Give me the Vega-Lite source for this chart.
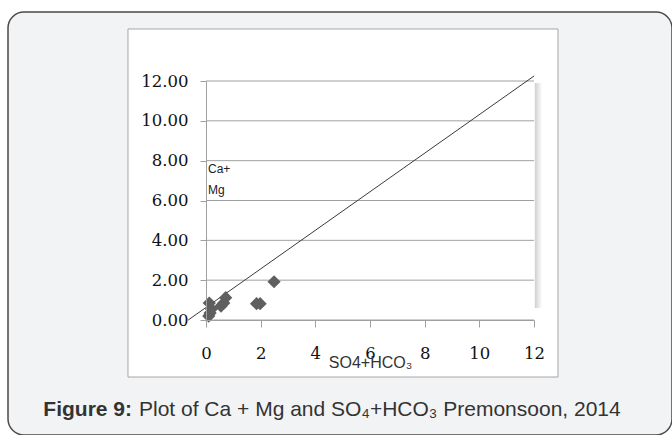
{
  "$schema": "https://vega.github.io/schema/vega-lite/v6.json",
  "width": 664,
  "height": 423,
  "autosize": {"type": "none"},
  "padding": {"left": 8, "top": 12, "right": 0, "bottom": 0},
  "background": "#ffffff",
  "config": {
    "view": {"fill": "#f2f3f5", "stroke": "#4a4a4a", "strokeWidth": 1.5, "cornerRadius": 16},
    "axisX": {
      "format": "d", "grid": false, "offset": -115, "labelFlush": false,
      "labelFont": "DejaVu Serif", "labelFontSize": 16.5, "labelColor": "#111111",
      "tickSize": 7, "tickColor": "#a0a0a0", "domainColor": "#a0a0a0", "labelPadding": 18,
      "titleFont": "Liberation Sans", "titleFontSize": 16, "titleFontWeight": "normal",
      "titleColor": "#333333", "titlePadding": -7
    },
    "axisY": {
      "format": ".2f", "grid": false, "offset": -198, "labelFlush": false,
      "labelFont": "DejaVu Serif", "labelFontSize": 16.5, "labelColor": "#111111",
      "tickSize": 6, "tickColor": "#a0a0a0", "domainColor": "#a0a0a0", "labelPadding": 12
    }
  },
  "datasets": {
    "points": [
      {"so4_hco3": 0.12, "ca_mg": 0.85},
      {"so4_hco3": 0.15, "ca_mg": 0.35},
      {"so4_hco3": 0.1, "ca_mg": 0.2},
      {"so4_hco3": 0.2, "ca_mg": 0.55},
      {"so4_hco3": 0.55, "ca_mg": 0.7},
      {"so4_hco3": 0.65, "ca_mg": 0.85},
      {"so4_hco3": 0.72, "ca_mg": 1.12},
      {"so4_hco3": 1.85, "ca_mg": 0.82},
      {"so4_hco3": 1.98, "ca_mg": 0.82},
      {"so4_hco3": 2.49, "ca_mg": 1.92}
    ],
    "line": [
      {"so4_hco3": -0.65, "ca_mg": 0.0},
      {"so4_hco3": 12.0, "ca_mg": 12.25}
    ],
    "grid": [{"g": 0}, {"g": 2}, {"g": 4}, {"g": 6}, {"g": 8}, {"g": 10}, {"g": 12}]
  },
  "layer": [
    {
      "data": {"values": [{}]},
      "mark": {"type": "rect", "fill": "#ffffff", "stroke": "#a6a6a6", "strokeWidth": 1},
      "encoding": {
        "x": {"datum": -2.854, "type": "quantitative", "scale": {"domain": [0, 12], "range": [198, 526], "nice": false, "zero": false}, "title": "SO4+HCO₃", "axis": {"zindex": 1, "values": [0, 2, 4, 6, 8, 10, 12]}},
        "x2": {"datum": 12.878},
        "y": {"datum": 14.611, "type": "quantitative", "scale": {"domain": [0, 12], "range": [308, 69], "nice": false, "zero": false}, "title": null, "axis": {"zindex": 1, "values": [0, 2, 4, 6, 8, 10, 12]}},
        "y2": {"datum": -2.862}
      }
    },
    {
      "data": {"values": [{}]},
      "mark": {"type": "rect", "fill": {"gradient": "linear", "x1": 0, "x2": 1, "y1": 0, "y2": 0, "stops": [{"offset": 0, "color": "#cfcfcf"}, {"offset": 1, "color": "#ffffff"}]}},
      "encoding": {
        "x": {"datum": 12.03, "type": "quantitative", "scale": {"domain": [0, 12], "range": [198, 526], "nice": false, "zero": false}, "title": "SO4+HCO₃", "axis": {"zindex": 1, "values": [0, 2, 4, 6, 8, 10, 12]}},
        "x2": {"datum": 12.3},
        "y": {"datum": 11.9, "type": "quantitative", "scale": {"domain": [0, 12], "range": [308, 69], "nice": false, "zero": false}, "title": null, "axis": {"zindex": 1, "values": [0, 2, 4, 6, 8, 10, 12]}},
        "y2": {"datum": 0.6}
      }
    },
    {
      "data": {"name": "grid"},
      "mark": {"type": "rule", "stroke": "#a0a0a0", "strokeWidth": 1},
      "encoding": {
        "x": {"datum": 0, "type": "quantitative", "scale": {"domain": [0, 12], "range": [198, 526], "nice": false, "zero": false}, "title": "SO4+HCO₃", "axis": {"zindex": 1, "values": [0, 2, 4, 6, 8, 10, 12]}},
        "x2": {"datum": 12},
        "y": {"field": "g", "type": "quantitative", "scale": {"domain": [0, 12], "range": [308, 69], "nice": false, "zero": false}, "title": null, "axis": {"zindex": 1, "values": [0, 2, 4, 6, 8, 10, 12]}}
      }
    },
    {
      "data": {"name": "line"},
      "mark": {"type": "line", "stroke": "#3a3a3a", "strokeWidth": 1},
      "encoding": {
        "x": {"field": "so4_hco3", "type": "quantitative", "scale": {"domain": [0, 12], "range": [198, 526], "nice": false, "zero": false}, "title": "SO4+HCO₃", "axis": {"zindex": 1, "values": [0, 2, 4, 6, 8, 10, 12]}},
        "y": {"field": "ca_mg", "type": "quantitative", "scale": {"domain": [0, 12], "range": [308, 69], "nice": false, "zero": false}, "title": null, "axis": {"zindex": 1, "values": [0, 2, 4, 6, 8, 10, 12]}}
      }
    },
    {
      "data": {"name": "points"},
      "mark": {"type": "point", "shape": "diamond", "filled": true, "size": 175, "color": "#5f5f5f", "opacity": 1},
      "encoding": {
        "x": {"field": "so4_hco3", "type": "quantitative", "scale": {"domain": [0, 12], "range": [198, 526], "nice": false, "zero": false}, "title": "SO4+HCO₃", "axis": {"zindex": 1, "values": [0, 2, 4, 6, 8, 10, 12]}},
        "y": {"field": "ca_mg", "type": "quantitative", "scale": {"domain": [0, 12], "range": [308, 69], "nice": false, "zero": false}, "title": null, "axis": {"zindex": 1, "values": [0, 2, 4, 6, 8, 10, 12]}}
      }
    },
    {
      "data": {"values": [{}]},
      "mark": {"type": "text", "text": ["Ca+", " Mg"], "align": "left", "baseline": "alphabetic", "font": "Liberation Sans", "fontSize": 12, "lineHeight": 21, "color": "#222222"},
      "encoding": {
        "x": {"datum": 0.073, "type": "quantitative", "scale": {"domain": [0, 12], "range": [198, 526], "nice": false, "zero": false}, "title": "SO4+HCO₃", "axis": {"zindex": 1, "values": [0, 2, 4, 6, 8, 10, 12]}},
        "y": {"datum": 7.366, "type": "quantitative", "scale": {"domain": [0, 12], "range": [308, 69], "nice": false, "zero": false}, "title": null, "axis": {"zindex": 1, "values": [0, 2, 4, 6, 8, 10, 12]}}
      }
    },
    {
      "data": {"values": [{}]},
      "mark": {"type": "text", "text": "Figure 9:", "align": "right", "baseline": "alphabetic", "font": "Liberation Sans", "fontSize": 21, "fontWeight": "bold", "color": "#333333"},
      "encoding": {
        "x": {"datum": -2.707, "type": "quantitative", "scale": {"domain": [0, 12], "range": [198, 526], "nice": false, "zero": false}, "title": "SO4+HCO₃", "axis": {"zindex": 1, "values": [0, 2, 4, 6, 8, 10, 12]}},
        "y": {"datum": -4.82, "type": "quantitative", "scale": {"domain": [0, 12], "range": [308, 69], "nice": false, "zero": false}, "title": null, "axis": {"zindex": 1, "values": [0, 2, 4, 6, 8, 10, 12]}}
      }
    },
    {
      "data": {"values": [{}]},
      "mark": {"type": "text", "text": "Plot of Ca + Mg and SO₄+HCO₃ Premonsoon, 2014", "align": "left", "baseline": "alphabetic", "font": "Liberation Sans", "fontSize": 21, "color": "#333333"},
      "encoding": {
        "x": {"datum": -2.451, "type": "quantitative", "scale": {"domain": [0, 12], "range": [198, 526], "nice": false, "zero": false}, "title": "SO4+HCO₃", "axis": {"zindex": 1, "values": [0, 2, 4, 6, 8, 10, 12]}},
        "y": {"datum": -4.82, "type": "quantitative", "scale": {"domain": [0, 12], "range": [308, 69], "nice": false, "zero": false}, "title": null, "axis": {"zindex": 1, "values": [0, 2, 4, 6, 8, 10, 12]}}
      }
    }
  ]
}
